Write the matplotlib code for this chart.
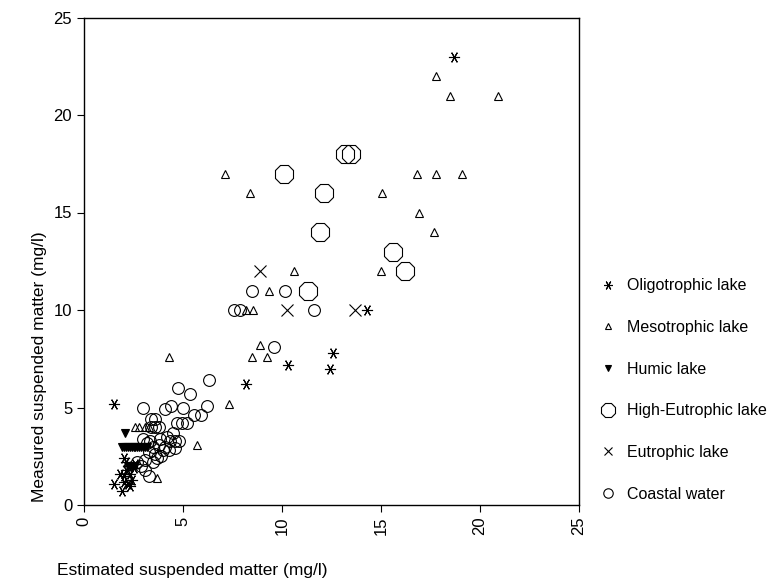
import numpy as np
import matplotlib.pyplot as plt
from matplotlib.lines import Line2D

plt.rcParams['font.family'] = ['Liberation Sans', 'DejaVu Sans']

# estimated (x) vs measured (y) suspended matter, mg/l
oligo_x = [18.7, 14.3, 12.6, 12.4, 10.3, 8.2, 1.5, 1.5, 1.9, 2.0, 2.2, 2.0, 2.1, 2.3, 2.2, 2.4, 2.5, 2.0, 2.3, 2.6, 1.8, 2.1]
oligo_y = [23.0, 10.0, 7.8, 7.0, 7.2, 6.2, 5.2, 1.1, 0.7, 2.4, 1.1, 1.5, 1.8, 1.6, 2.0, 1.3, 1.9, 1.2, 1.0, 2.1, 1.6, 2.2]

meso_x = [17.8, 18.5, 20.9, 7.1, 8.4, 15.05, 16.8, 17.8, 19.1, 16.9, 17.7, 10.6, 15.0, 9.35, 8.2, 8.55,
          8.9, 8.5, 9.25, 7.3, 4.3, 5.7, 3.7, 2.6, 2.8, 3.1, 3.3]
meso_y = [22.0, 21.0, 21.0, 17.0, 16.0, 16.0, 17.0, 17.0, 17.0, 15.0, 14.0, 12.0, 12.0, 11.0, 10.0, 10.0,
          8.2, 7.6, 7.6, 5.2, 7.6, 3.1, 1.4, 4.0, 4.0, 4.0, 4.0]

humic_x = [2.05, 1.9, 2.0, 2.1, 2.2, 2.3, 2.4, 2.5, 2.6, 2.7, 2.8, 2.9, 3.0, 3.1, 3.2, 2.2, 2.4, 2.6]
humic_y = [3.7, 3.0, 3.0, 3.0, 3.0, 3.0, 3.0, 3.0, 3.0, 3.0, 3.0, 3.0, 3.0, 3.0, 3.0, 2.0, 1.9, 2.0]

higheu_x = [10.1, 13.2, 13.5, 12.1, 11.9, 15.6, 16.2, 11.3]
higheu_y = [17.0, 18.0, 18.0, 16.0, 14.0, 13.0, 12.0, 11.0]

eu_x = [8.9, 10.25, 13.7]
eu_y = [12.0, 10.0, 10.0]

coast_x = [8.5, 10.15, 7.6, 7.9, 11.6, 9.6, 6.3, 5.35, 6.2, 5.55, 5.9, 4.75, 5.0, 4.1, 4.4, 3.0,
           3.4, 3.6, 4.7, 4.95, 5.2, 3.4, 3.6, 3.8, 4.5, 3.35, 3.85, 4.35, 4.6, 3.0, 3.2, 3.5,
           3.8, 4.1, 4.3, 4.6, 3.3, 3.6, 3.9, 4.0, 3.1, 3.5, 3.7, 2.9, 3.1, 3.3, 2.7, 4.2, 4.8]
coast_y = [11.0, 11.0, 10.0, 10.0, 10.0, 8.1, 6.4, 5.7, 5.1, 4.6, 4.6, 6.0, 5.0, 4.9, 5.1, 5.0,
           4.4, 4.4, 4.2, 4.2, 4.2, 4.0, 4.0, 4.0, 3.7, 3.3, 3.4, 3.3, 3.3, 3.4, 3.2, 3.0,
           3.1, 3.0, 2.8, 2.9, 2.7, 2.6, 2.5, 2.8, 2.3, 2.2, 2.4, 2.0, 1.8, 1.5, 2.2, 3.5, 3.3]

labels = ['Oligotrophic lake', 'Mesotrophic lake', 'Humic lake',
          'High-Eutrophic lake', 'Eutrophic lake', 'Coastal water']

fig = plt.figure(figsize=(7.76, 5.85), dpi=100)
ax = fig.add_axes([84 / 776, 1 - 505 / 585, 495 / 776, 487.5 / 585])

star = (6, 2, 90)
styles = [
    dict(marker=star, ms=8, mfc='none'),
    dict(marker='^', ms=5.5, mfc='none'),
    dict(marker='v', ms=5.5, mfc='black'),
    dict(marker='8', ms=14, mfc='none'),
    dict(marker='x', ms=8, mfc='none'),
    dict(marker='o', ms=8.5, mfc='none'),
]
series = [(oligo_x, oligo_y), (meso_x, meso_y), (humic_x, humic_y),
          (higheu_x, higheu_y), (eu_x, eu_y), (coast_x, coast_y)]

for (xs, ys), st in zip(series, styles):
    ax.plot(xs, ys, ls='none', mec='black', mew=0.8, **st)

ax.set_xlim(0, 25)
ax.set_ylim(0, 25)
ax.set_xticks([0, 5, 10, 15, 20, 25])
ax.set_yticks([0, 5, 10, 15, 20, 25])
ax.tick_params(axis='x', labelrotation=90, labelsize=12, length=5)
ax.tick_params(axis='y', labelsize=12, length=5)
for s in ax.spines.values():
    s.set_linewidth(1)

fig.text(40 / 776, 1 - 367 / 585, 'Measured suspended matter (mg/l)', rotation=90,
         ha='center', va='center', fontsize=12.5)
fig.text(192 / 776, 1 - 570 / 585, 'Estimated suspended matter (mg/l)',
         ha='center', va='center', fontsize=12.5)

handles = []
for st in styles:
    h = dict(st)
    h['ms'] = h['ms'] * 0.8 if h['marker'] != '8' else 11
    handles.append(Line2D([], [], ls='none', mec='black', mew=0.8, **h))
fig.legend(handles, labels, loc='upper left', bbox_to_anchor=(594 / 776, 1 - 272 / 585),
           frameon=False, fontsize=11.5, labelspacing=1.67, handletextpad=0.65,
           handlelength=1.0, borderaxespad=0)

fig.savefig('out.png', dpi=100)
